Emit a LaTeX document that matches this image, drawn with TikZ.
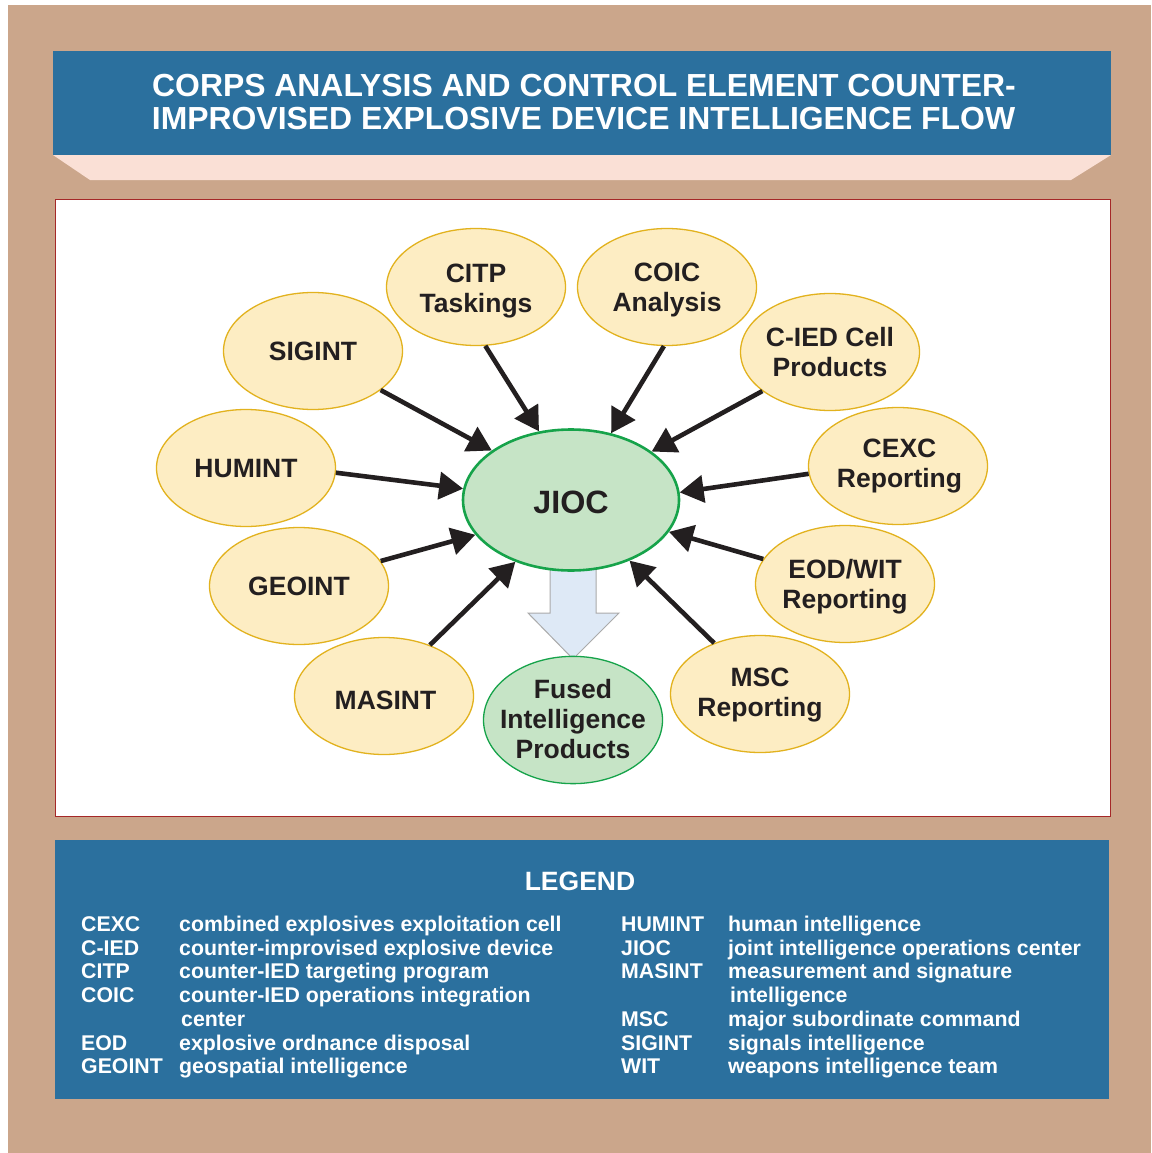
\documentclass[tikz,border=0pt]{standalone}
\usepackage{fontspec}
\setmainfont{Liberation Sans}
\usetikzlibrary{shapes.geometric,arrows.meta}
\definecolor{tan}{RGB}{203,166,139}
\definecolor{banner}{RGB}{43,112,158}
\definecolor{bevel}{RGB}{250,224,214}
\definecolor{yfill}{RGB}{253,237,195}
\definecolor{ydraw}{RGB}{226,178,30}
\definecolor{gfill}{RGB}{198,228,198}
\definecolor{gdraw}{RGB}{22,163,74}
\definecolor{ink}{RGB}{35,31,32}
\definecolor{panelred}{RGB}{165,40,40}
\definecolor{bafill}{RGB}{222,233,246}
\definecolor{badraw}{RGB}{170,170,170}
\newcommand{\ctext}[2][3pt]{\makebox[0pt]{\raisebox{-#1}[\height][\depth]{\begin{tabular}{@{}c@{}}#2\end{tabular}}}}
\tikzset{
  src/.style={ellipse,draw=ydraw,fill=yfill,line width=1.3pt,minimum width=179pt,minimum height=117pt,inner sep=0pt,
    font=\bfseries\fontsize{26.5}{30}\selectfont,text=ink},
  fused/.style={src,draw=gdraw,fill=gfill},
  hub/.style={ellipse,draw=gdraw,fill=gfill,line width=2.6pt,minimum width=216pt,minimum height=141pt,inner sep=0pt,
    font=\bfseries\fontsize{32.3}{36}\selectfont,text=ink},
  arr/.style={draw=ink,line width=4.6pt,-{Triangle[length=24pt,width=27pt]}},
  ttl/.style={text=white,font=\bfseries\fontsize{31.9}{34}\selectfont,anchor=base,inner sep=0pt},
  lg/.style={text=white,font=\bfseries\fontsize{21.3}{24}\selectfont,anchor=base west,inner sep=0pt},
}
\begin{document}
\begin{tikzpicture}[x=1pt,y=-1pt]
\useasboundingbox (0,0) rectangle (1151,1153);
\fill[white] (0,0) rectangle (1151,1153);
\fill[tan] (8,5) rectangle (1151,1153);
% title banner
\fill[bevel] (53,155) -- (90,180) -- (1071,180) -- (1111,155) -- cycle;
\fill[banner] (53,51) rectangle (1111,155);
\node[ttl] (t1) at (584,97) {CORPS ANALYSIS AND CONTROL ELEMENT COUNTER-};
\node[ttl] (t2) at (583.5,130) {IMPROVISED EXPLOSIVE DEVICE INTELLIGENCE FLOW};
% panel
\filldraw[fill=white,draw=panelred,line width=1pt] (55,199) rectangle (1110,816);
% block arrow
\filldraw[fill=bafill,draw=badraw,line width=1pt] (550,555) -- (550,613) -- (528,613) -- (573,659) -- (619,613) -- (596,613) -- (596,555);
% nodes
\node[hub] (jioc) at (571,500) {\ctext[6.5pt]{JIOC}};
\node[src] (sig) at (313,351) {\ctext[3pt]{SIGINT}};
\node[src] (citp) at (476,287) {\ctext[4pt]{CITP\\Taskings}};
\node[src] (coic) at (667,287) {\ctext[3.5pt]{COIC\\Analysis}};
\node[src] (cied) at (830,352) {\ctext[3pt]{C-IED Cell\\Products}};
\node[src] (hum) at (246,468) {\ctext[3pt]{HUMINT}};
\node[src] (cexc) at (898,466) {\ctext[0pt]{\hspace*{3pt}CEXC\\\hspace*{3pt}Reporting}};
\node[src] (geo) at (299,586) {\ctext[3pt]{GEOINT}};
\node[src] (eod) at (845,584) {\ctext[3.5pt]{EOD/WIT\\Reporting}};
\node[src] (mas) at (384,696) {\ctext[7pt]{\hspace*{3pt}MASINT}};
\node[src] (msc) at (760,694) {\ctext[1pt]{MSC\\Reporting}};
\node[fused] (fus) at (573,720) {\ctext[2pt]{Fused\\Intelligence\\Products}};
% connectors
\foreach \s/\a/\b in {sig/-30.5/148.7, citp/-81/115.3, coic/-93/59.6, cied/-150/31.4,
                      hum/-3/174.7, cexc/185/4.7, geo/17.6/-160, eod/163.4/-18.8,
                      mas/48.5/-132.2, msc/132.7/-46.8}
  \draw[arr] (\s.\a) -- (jioc.\b);
% legend
\fill[banner] (55,840) rectangle (1109,1099);
\node[text=white,font=\bfseries\fontsize{26.5}{30}\selectfont,anchor=base,inner sep=0pt] (lgt) at (580,890) {LEGEND};
\foreach \i/\a/\d in {0/CEXC/combined explosives exploitation cell,
                      1/C-IED/counter-improvised explosive device,
                      2/CITP/counter-IED targeting program,
                      3/COIC/counter-IED operations integration,
                      5/EOD/explosive ordnance disposal,
                      6/GEOINT/geospatial intelligence}{
  \node[lg] (la\i) at (81,931.5+23.7*\i) {\a};
  \node[lg] (ld\i) at (179,931.5+23.7*\i) {\d};
}
\node[lg] (ld4) at (181,931.5+23.7*4) {center};
\foreach \i/\a/\d in {0/HUMINT/human intelligence,
                      1/JIOC/joint intelligence operations center,
                      2/MASINT/measurement and signature,
                      4/MSC/major subordinate command,
                      5/SIGINT/signals intelligence,
                      6/WIT/weapons intelligence team}{
  \node[lg] (ra\i) at (621,931.5+23.7*\i) {\a};
  \node[lg] (rd\i) at (728,931.5+23.7*\i) {\d};
}
\node[lg] (rd3) at (730,931.5+23.7*3) {intelligence};
\end{tikzpicture}
\end{document}
